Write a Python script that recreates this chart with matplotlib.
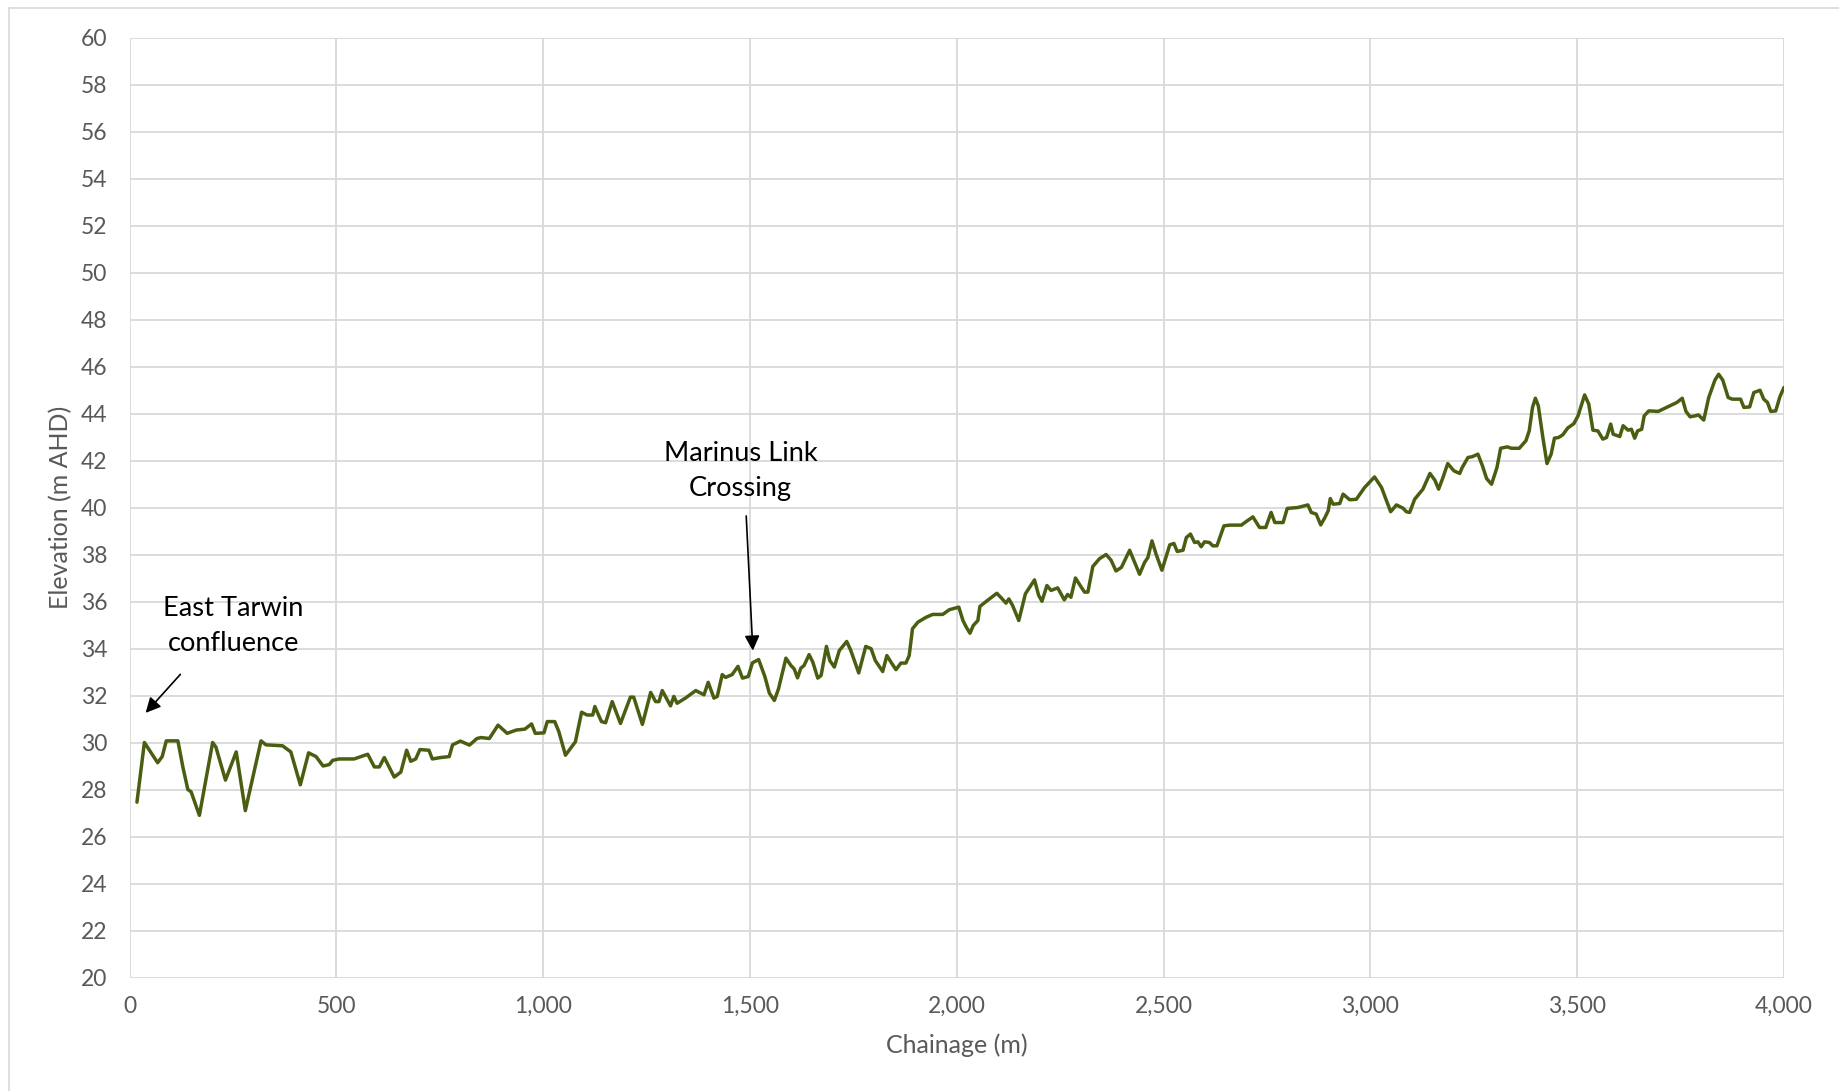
import matplotlib
matplotlib.use("Agg")
import matplotlib.pyplot as plt
from matplotlib.ticker import FuncFormatter, MultipleLocator
from matplotlib.lines import Line2D

plt.rcParams['font.family'] = ['Lato', 'DejaVu Sans']

# Long-section of the waterway: chainage (m) vs bed elevation (m AHD)
chainage = [
    18, 36, 68, 79, 89, 117, 129, 141, 149, 169, 201, 209, 232, 258, 280, 318, 330, 370, 390, 413,
    433, 451, 468, 483, 491, 507, 543, 576, 592, 604, 616, 640, 656, 670, 680, 692, 702, 724, 732, 752,
    773, 781, 800, 822, 840, 850, 870, 891, 913, 935, 956, 972, 981, 1002, 1010, 1028, 1038, 1054, 1070, 1078,
    1093, 1106, 1120, 1125, 1141, 1151, 1167, 1187, 1211, 1219, 1240, 1260, 1272, 1280, 1288, 1308, 1316, 1324, 1344, 1369,
    1389, 1399, 1413, 1421, 1433, 1441, 1457, 1471, 1482, 1496, 1506, 1521, 1536, 1547, 1559, 1569, 1587, 1599, 1607, 1615,
    1623, 1631, 1643, 1652, 1664, 1672, 1685, 1693, 1704, 1716, 1734, 1744, 1763, 1780, 1793, 1803, 1821, 1831, 1841, 1853,
    1865, 1877, 1885, 1893, 1906, 1926, 1942, 1966, 1982, 2005, 2015, 2023, 2032, 2040, 2051, 2056, 2079, 2097, 2110, 2119,
    2126, 2135, 2150, 2166, 2188, 2198, 2206, 2218, 2228, 2244, 2260, 2268, 2276, 2287, 2301, 2309, 2317, 2329, 2345, 2361,
    2373, 2385, 2398, 2418, 2442, 2454, 2462, 2472, 2482, 2496, 2515, 2525, 2533, 2547, 2555, 2565, 2575, 2583, 2591, 2599,
    2611, 2619, 2629, 2646, 2660, 2688, 2702, 2716, 2732, 2747, 2760, 2769, 2789, 2799, 2825, 2849, 2857, 2869, 2880, 2890,
    2898, 2903, 2910, 2926, 2934, 2950, 2966, 2986, 3010, 3027, 3049, 3063, 3079, 3087, 3095, 3107, 3127, 3144, 3156, 3165,
    3176, 3187, 3202, 3216, 3222, 3236, 3246, 3260, 3271, 3281, 3293, 3306, 3315, 3331, 3341, 3360, 3376, 3384, 3392, 3399,
    3406, 3417, 3427, 3437, 3445, 3455, 3465, 3477, 3492, 3502, 3518, 3528, 3538, 3550, 3562, 3571, 3581, 3587, 3603, 3611,
    3623, 3631, 3639, 3646, 3656, 3662, 3673, 3696, 3716, 3741, 3754, 3763, 3773, 3785, 3793, 3806, 3818, 3833, 3842, 3852,
    3865, 3875, 3895, 3903, 3917, 3927, 3942, 3951, 3960, 3968, 3980, 3990, 4000,
]
elevation = [
    27.46, 30.0, 29.14, 29.4, 30.07, 30.07, 28.96, 28.0, 27.9, 26.9, 30.0, 29.8, 28.4, 29.6, 27.1, 30.07, 29.9, 29.86, 29.6, 28.2,
    29.56, 29.4, 29.0, 29.06, 29.24, 29.3, 29.3, 29.5, 28.96, 28.96, 29.36, 28.53, 28.74, 29.67, 29.2, 29.3, 29.7, 29.67, 29.3, 29.36,
    29.4, 29.9, 30.06, 29.89, 30.17, 30.21, 30.17, 30.74, 30.39, 30.53, 30.57, 30.79, 30.39, 30.41, 30.89, 30.89, 30.46, 29.46, 29.84, 30.03,
    31.29, 31.17, 31.17, 31.53, 30.89, 30.84, 31.74, 30.81, 31.93, 31.93, 30.77, 32.13, 31.74, 31.74, 32.21, 31.56, 31.96, 31.67, 31.89, 32.21,
    32.03, 32.56, 31.89, 31.96, 32.89, 32.77, 32.89, 33.24, 32.74, 32.81, 33.39, 33.53, 32.81, 32.1, 31.79, 32.28, 33.59, 33.28, 33.13, 32.75,
    33.16, 33.28, 33.74, 33.42, 32.74, 32.85, 34.09, 33.49, 33.21, 33.91, 34.3, 33.91, 32.96, 34.09, 33.99, 33.49, 33.02, 33.7, 33.42, 33.1,
    33.38, 33.38, 33.7, 34.84, 35.12, 35.33, 35.45, 35.45, 35.65, 35.76, 35.19, 34.91, 34.65, 34.98, 35.19, 35.79, 36.11, 36.35, 36.11, 35.93,
    36.11, 35.83, 35.19, 36.33, 36.92, 36.26, 36.01, 36.68, 36.47, 36.58, 36.07, 36.3, 36.18, 37.0, 36.61, 36.4, 36.4, 37.49, 37.82, 38.0,
    37.76, 37.3, 37.45, 38.18, 37.16, 37.66, 37.87, 38.58, 38.01, 37.33, 38.41, 38.47, 38.13, 38.18, 38.72, 38.87, 38.51, 38.54, 38.33, 38.54,
    38.51, 38.37, 38.37, 39.22, 39.25, 39.25, 39.43, 39.6, 39.15, 39.15, 39.79, 39.36, 39.36, 39.96, 40.0, 40.11, 39.79, 39.72, 39.26, 39.57,
    39.86, 40.38, 40.14, 40.17, 40.57, 40.33, 40.35, 40.85, 41.3, 40.85, 39.82, 40.11, 39.97, 39.82, 39.79, 40.35, 40.78, 41.45, 41.16, 40.78,
    41.3, 41.87, 41.56, 41.45, 41.7, 42.13, 42.16, 42.27, 41.77, 41.23, 40.99, 41.7, 42.52, 42.58, 42.52, 42.52, 42.84, 43.26, 44.26, 44.65,
    44.33, 42.98, 41.87, 42.27, 42.95, 42.98, 43.09, 43.38, 43.57, 43.9, 44.79, 44.4, 43.29, 43.26, 42.91, 42.98, 43.55, 43.12, 43.02, 43.48,
    43.29, 43.33, 42.95, 43.26, 43.33, 43.9, 44.11, 44.09, 44.26, 44.47, 44.65, 44.09, 43.86, 43.9, 43.94, 43.72, 44.68, 45.42, 45.67, 45.42,
    44.68, 44.61, 44.61, 44.26, 44.28, 44.89, 44.99, 44.61, 44.47, 44.09, 44.11, 44.71, 45.11,
]

x_label = "Chainage (m)"
y_label = "Elevation (m AHD)"
confluence_label = "East Tarwin\nconfluence"
crossing_label = "Marinus Link\nCrossing"

LINE = "#4a5e12"
GRID = "#d9d9d9"
TICK = "#595959"

fig = plt.figure(figsize=(18.39, 10.91), dpi=100)
fig.patch.set_facecolor("white")

# light frame around the chart area
fig.add_artist(Line2D([9/1839, 9/1839], [0, 1 - 8/1091], transform=fig.transFigure,
                      color=GRID, lw=1.2))
fig.add_artist(Line2D([9/1839, 1], [1 - 8/1091, 1 - 8/1091], transform=fig.transFigure,
                      color=GRID, lw=1.2))

ax = fig.add_axes([129.5/1839, 1 - 977.5/1091, (1784 - 129.5)/1839, (977.5 - 37.5)/1091])
ax.set_xlim(0, 4000)
ax.set_ylim(20, 60)
ax.xaxis.set_major_locator(MultipleLocator(500))
ax.yaxis.set_major_locator(MultipleLocator(2))
ax.xaxis.set_major_formatter(FuncFormatter(lambda v, p: f"{int(v):,}"))
ax.yaxis.set_major_formatter(FuncFormatter(lambda v, p: f"{int(v)}"))
ax.grid(True, color=GRID, lw=1.3)
ax.set_axisbelow(True)
for s in ax.spines.values():
    s.set_visible(False)
ax.tick_params(length=0, labelsize=16.5, labelcolor=TICK)
ax.tick_params(axis='y', pad=16)
ax.tick_params(axis='x', pad=13)

ax.plot(chainage, elevation, color=LINE, lw=2.5, solid_joinstyle='round',
        solid_capstyle='round', zorder=3)

ax.set_xlabel(x_label, fontsize=18, color=TICK, labelpad=12)
ax.set_ylabel(y_label, fontsize=18, color=TICK, labelpad=6)

ax.annotate("", xy=(39, 31.26), xytext=(123, 32.9),
            arrowprops=dict(arrowstyle="-|>,head_length=0.9,head_width=0.45",
                            color="black", lw=1.2, shrinkA=0, shrinkB=0))
ax.text(251, 34.95, confluence_label, ha="center", va="center", fontsize=19.6,
        color="black", linespacing=1.5)

ax.annotate("", xy=(1507, 33.91), xytext=(1491, 39.64),
            arrowprops=dict(arrowstyle="-|>,head_length=0.9,head_width=0.45",
                            color="black", lw=1.2, shrinkA=0, shrinkB=0))
ax.text(1477, 41.55, crossing_label, ha="center", va="center", fontsize=19.6,
        color="black", linespacing=1.5)

fig.savefig("out.png", dpi=100, facecolor="white")
